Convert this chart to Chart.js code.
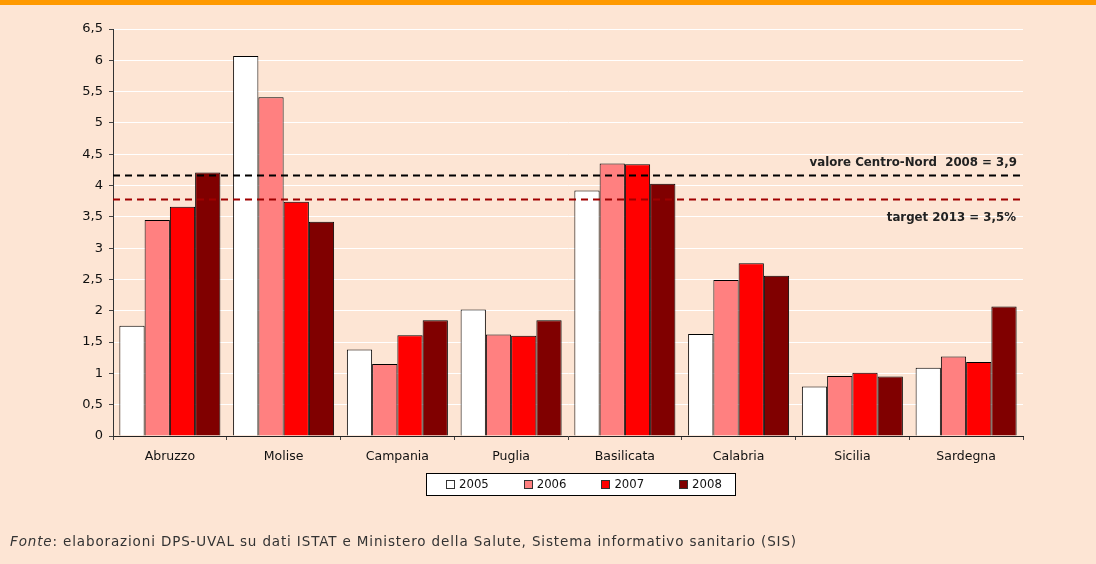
<!DOCTYPE html>
<html>
<head>
    <title>Regioni Mezzogiorno 2005-2008</title>
    <script src="https://cdn.jsdelivr.net/npm/chart.js"></script>
    <style>
        body { margin: 0; background: #fde5d4; }
        #wrap { position: relative; width: 1096px; height: 564px; overflow: hidden; background: #fde5d4; }
        #band { position: absolute; left: 0; top: 0; width: 1096px; height: 5px; background: #ff9900; }
        canvas { position: absolute; left: 0; top: 0; }
        #fonte { position: absolute; left: 10px; top: 533px; font-family: "DejaVu Sans", sans-serif; font-size: 13.5px; line-height: 16px; color: #333; white-space: nowrap; }
    </style>
</head>
<body>
<div id="wrap">
    <div id="band"></div>
    <canvas id="barChart" width="1096" height="564"></canvas>
    <div id="fonte"><i>Fonte</i>: elaborazioni DPS-UVAL su dati ISTAT e Ministero della Salute, Sistema informativo sanitario (SIS)</div>
</div>

<script>
    // data
    const categories = ['Abruzzo', 'Molise', 'Campania', 'Puglia', 'Basilicata', 'Calabria', 'Sicilia', 'Sardegna'];
    const years = ['2005', '2006', '2007', '2008'];
    const values2005 = [1.76, 6.07, 1.38, 2.02, 3.92, 1.63, 0.79, 1.09];
    const values2006 = [3.45, 5.41, 1.15, 1.62, 4.35, 2.49, 0.96, 1.27];
    const values2007 = [3.66, 3.74, 1.61, 1.60, 4.34, 2.76, 1.01, 1.18];
    const values2008 = [4.21, 3.42, 1.85, 1.85, 4.03, 2.56, 0.95, 2.07];
    const yearColors = ['#ffffff', '#ff8080', '#ff0000', '#800000'];

    // reference lines (drawn where the picture has them)
    const refValues = [4.17, 3.78];
    const refLabels = ['valore Centro-Nord  2008 = 3,9', 'target 2013 = 3,5%'];
    const refColors = ['#000000', '#a00000'];

    const seriesValues = [values2005, values2006, values2007, values2008];

    const refLinesPlugin = {
        id: 'refLines',
        afterDatasetsDraw(chart) {
            const ctx = chart.ctx;
            const area = chart.chartArea;
            const y = chart.scales.y;
            ctx.save();
            refValues.forEach((v, i) => {
                const py = Math.round(y.getPixelForValue(v)) + 0.5;
                ctx.strokeStyle = refColors[i];
                ctx.lineWidth = 2;
                ctx.setLineDash([7, 5]);
                ctx.beginPath();
                ctx.moveTo(area.left, py);
                ctx.lineTo(area.right, py);
                ctx.stroke();
            });
            ctx.setLineDash([]);
            ctx.fillStyle = '#222';
            ctx.font = 'bold 11.8px "DejaVu Sans"';
            ctx.textAlign = 'right';
            ctx.textBaseline = 'middle';
            ctx.fillText(refLabels[0], area.right - 6, y.getPixelForValue(refValues[0]) - 12);
            ctx.fillText(refLabels[1], area.right - 7, y.getPixelForValue(refValues[1]) + 19);
            ctx.restore();
        }
    };

    // legend in a white box under the axis
    const boxLegendPlugin = {
        id: 'boxLegend',
        afterDraw(chart) {
            const ctx = chart.ctx;
            ctx.save();
            ctx.fillStyle = '#ffffff';
            ctx.fillRect(426.5, 473.5, 309, 22);
            ctx.strokeStyle = '#000';
            ctx.lineWidth = 1;
            ctx.strokeRect(426.5, 473.5, 309, 22);
            ctx.font = '13px "DejaVu Sans Condensed", "DejaVu Sans"';
            ctx.textBaseline = 'middle';
            ctx.textAlign = 'left';
            chart.data.datasets.forEach((ds, i) => {
                const x = 446 + i * 77.7;
                ctx.fillStyle = ds.backgroundColor;
                ctx.fillRect(Math.round(x) + 0.5, 480.5, 8, 8);
                ctx.strokeStyle = '#333';
                ctx.strokeRect(Math.round(x) + 0.5, 480.5, 8, 8);
                ctx.fillStyle = '#111';
                ctx.fillText(ds.label, x + 13, 485);
            });
            ctx.restore();
        }
    };

    const ctx = document.getElementById('barChart').getContext('2d');
    new Chart(ctx, {
        type: 'bar',
        data: {
            labels: categories,
            datasets: years.map((yr, i) => ({
                label: yr,
                data: seriesValues[i],
                backgroundColor: yearColors[i],
                borderColor: '#000',
                borderWidth: 1,
                categoryPercentage: 0.888,
                barPercentage: 1.0
            }))
        },
        options: {
            responsive: false,
            animation: false,
            layout: { padding: { left: 0, right: 73, top: 29, bottom: 98 } },
            plugins: {
                legend: { display: false },
                tooltip: { enabled: false }
            },
            scales: {
                x: {
                    afterFit(scale) { scale.height = 30; },
                    grid: { display: true, drawOnChartArea: false, offset: true, tickLength: 4, tickColor: '#444' },
                    border: { display: true, color: '#222', width: 1 },
                    ticks: { color: '#111', padding: 9, font: { family: 'DejaVu Sans', size: 12.5 } }
                },
                y: {
                    min: 0,
                    max: 6.5,
                    afterFit(scale) { scale.width = 113; },
                    grid: { color: '#ffffff', lineWidth: 1, tickLength: 4, tickColor: '#444' },
                    border: { display: true, color: '#333', width: 1 },
                    ticks: {
                        stepSize: 0.5,
                        padding: 6,
                        color: '#111',
                        font: { family: 'DejaVu Sans', size: 13 },
                        callback: v => String(v).replace('.', ',')
                    }
                }
            }
        },
        plugins: [refLinesPlugin, boxLegendPlugin]
    });

    // stretch the source line to the width it has in the picture
    const fonte = document.getElementById('fonte');
    const extra = 787 - fonte.getBoundingClientRect().width;
    fonte.style.letterSpacing = (extra / fonte.textContent.length) + 'px';
</script>
</body>
</html>
